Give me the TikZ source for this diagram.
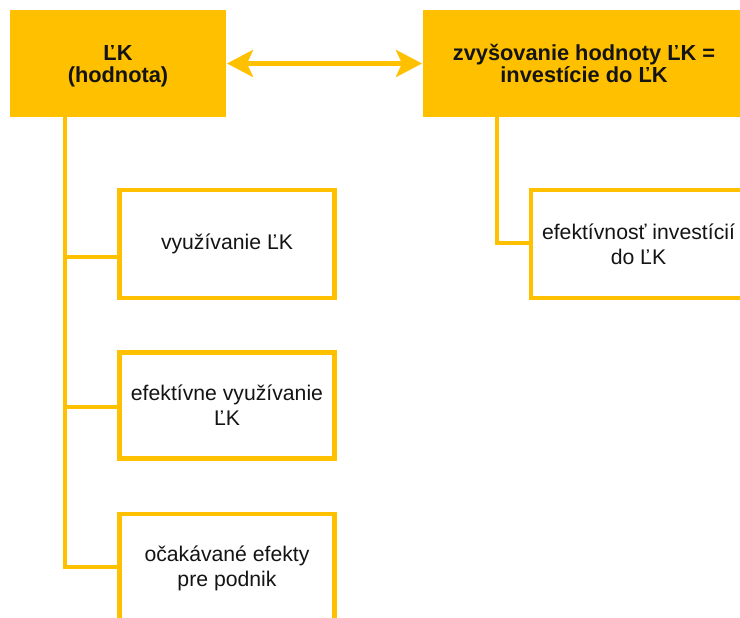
\documentclass[tikz,border=0pt]{standalone}
\usepackage{fontspec}
\setmainfont{Liberation Sans}
\usetikzlibrary{arrows.meta,positioning}
\definecolor{amber}{RGB}{255,192,0}
\definecolor{ink}{RGB}{20,20,20}
\tikzset{
  headbox/.style={fill=amber, draw=none, minimum width=216pt, minimum height=107pt, outer sep=0pt,
    align=center, text=ink, font=\fontsize{21.8}{22.5}\selectfont\bfseries, inner sep=0pt},
  headtext/.style={align=center, text=ink, font=\fontsize{21.8}{22.5}\selectfont\bfseries, inner sep=0pt},
  leafbox/.style={draw=amber, line width=4.5pt, fill=white, minimum width=215pt, outer sep=0pt,
    minimum height=108pt, align=center, text=ink, font=\fontsize{21.2}{25}\selectfont, inner sep=0pt},
  conn/.style={draw=amber, line width=4.5pt},
  twoway/.style={draw=amber, line width=4.5pt, {Stealth[length=26pt,width=27pt,inset=6pt]}-{Stealth[length=26pt,width=27pt,inset=6pt]}}
}
\begin{document}
\begin{tikzpicture}[x=1pt,y=-1pt]
\useasboundingbox (0,0) rectangle (740,618);
\fill[white] (0,0) rectangle (740,618);

% top row
\node[headbox, anchor=north west] (lk) at (10,10) {};
\node[headtext] (lktext) at ([yshift=-3pt]lk.center) {ĽK\\(hodnota)};
\node[headbox, anchor=north west, minimum width=322pt] (inv) at (423,10) {zvyšovanie hodnoty ĽK =\\investície do ĽK};

% children of the left head
\node[leafbox, anchor=north west] (use) at (119.5,190) {využívanie ĽK};
\node[leafbox, anchor=north west, minimum height=106pt] (eff) at (119.5,352.5) {efektívne využívanie\\ĽK};
\node[leafbox, anchor=north west] (exp) at (119.5,514) {očakávané efekty\\pre podnik};

% child of the right head
\node[leafbox, anchor=north west] (ret) at (531,190) {efektívnosť investícií\\do ĽK};

% links
\draw[twoway] ([xshift=1pt]lk.east) -- ([xshift=-1pt]inv.west);

\draw[conn] ([xshift=55pt]lk.south west) |- ([yshift=-13pt]use.west);
\draw[conn] ([xshift=55pt]lk.south west) |- ([yshift=-1.5pt]eff.west);
\draw[conn] ([xshift=55pt]lk.south west) |- ([yshift=1pt]exp.west);
\draw[conn] ([xshift=74pt]inv.south west) |- ([yshift=1pt]ret.west);
\end{tikzpicture}
\end{document}
